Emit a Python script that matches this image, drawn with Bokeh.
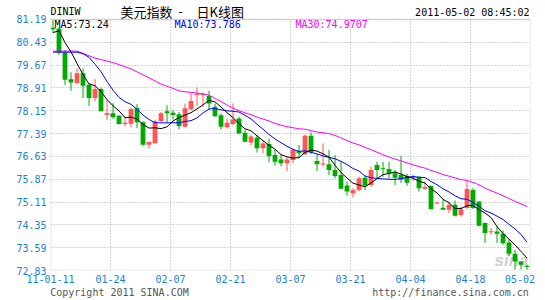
import numpy as np
from bokeh.plotting import figure
from bokeh.models import FixedTicker, Label, ColumnDataSource, LinearAxis, BoxAnnotation
from bokeh.embed import file_html
from bokeh.resources import INLINE

# ---------------- data ----------------
y_ticks = [72.83, 73.59, 74.35, 75.11, 75.87, 76.63, 77.39, 78.15, 78.91, 79.67, 80.43, 81.19]
x_tick_pos = [0, 10, 20, 30, 40, 50, 60, 70, 80]
x_tick_labels = ["11-01-11", "01-24", "02-07", "02-21", "03-07", "03-21", "04-04", "04-18", "05-02"]

opens = [80.91, 80.89, 80.09, 79.20, 79.07, 79.40, 79.01, 78.57, 78.87, 78.01,
         78.07, 77.98, 77.71, 77.71, 78.24, 77.77, 77.02, 77.07, 77.80, 78.13,
         78.08, 78.03, 77.62, 78.20, 78.67, 78.67, 78.64, 78.28, 78.00, 77.60,
         77.71, 77.89, 77.42, 77.09, 77.25, 76.90, 77.04, 76.68, 76.53, 76.40,
         76.51, 76.81, 76.70, 77.32, 76.48, 76.36, 76.37, 76.18, 76.01, 75.66,
         75.40, 75.51, 75.92, 75.68, 76.34, 76.23, 76.21, 76.07, 76.01, 75.98,
         75.90, 75.95, 75.55, 75.64, 75.06, 74.92, 74.85, 75.02, 74.68, 74.91,
         75.51, 75.13, 74.41, 74.10, 74.13, 74.05, 73.76, 73.39, 73.13, 72.96]
highs = [81.17, 80.92, 80.17, 79.43, 79.56, 79.56, 79.07, 79.20, 78.92, 78.51,
         78.40, 78.00, 77.96, 78.26, 78.37, 77.80, 77.13, 77.85, 78.11, 78.33,
         78.17, 78.11, 78.39, 78.72, 78.92, 78.75, 78.81, 78.39, 78.06, 77.89,
         78.39, 77.95, 77.52, 77.35, 77.35, 77.16, 77.21, 76.88, 76.68, 76.60,
         76.90, 77.01, 77.36, 77.43, 76.70, 77.06, 76.84, 76.68, 76.45, 75.79,
         75.57, 75.96, 76.01, 76.29, 76.45, 76.45, 76.45, 76.18, 76.65, 76.05,
         76.02, 75.97, 75.79, 75.66, 75.12, 75.21, 75.13, 75.16, 74.96, 75.82,
         75.57, 75.13, 74.43, 74.24, 74.30, 74.16, 73.86, 73.52, 73.13, 73.02]
lows = [80.74, 80.01, 79.01, 78.81, 79.05, 78.57, 78.31, 78.46, 78.13, 77.85,
        77.87, 77.69, 77.63, 77.60, 77.57, 76.98, 76.89, 77.05, 77.78, 77.74,
        77.86, 77.53, 77.60, 78.17, 78.30, 78.28, 78.19, 77.95, 77.53, 77.56,
        77.67, 77.39, 77.10, 77.00, 76.76, 76.73, 76.43, 76.32, 76.30, 76.14,
        76.40, 76.57, 76.68, 76.70, 76.14, 76.29, 76.01, 75.90, 75.55, 75.32,
        75.26, 75.46, 75.51, 75.62, 75.90, 75.95, 75.90, 75.68, 75.74, 75.65,
        75.82, 75.46, 75.52, 74.85, 75.03, 74.85, 74.74, 74.63, 74.63, 74.87,
        74.87, 74.30, 73.75, 74.02, 73.75, 73.69, 73.30, 72.86, 72.86, 72.86]
closes = [80.86, 80.09, 79.18, 79.09, 79.40, 78.98, 78.57, 78.87, 78.13, 78.07,
          77.94, 77.71, 77.75, 78.21, 77.77, 77.02, 77.11, 77.80, 78.07, 78.07,
          78.01, 77.64, 78.23, 78.47, 78.70, 78.69, 78.39, 77.97, 77.62, 77.75,
          77.86, 77.39, 77.12, 77.29, 76.90, 77.06, 76.64, 76.45, 76.40, 76.53,
          76.84, 76.73, 77.32, 76.77, 76.37, 76.38, 76.18, 75.98, 75.55, 75.46,
          75.51, 75.90, 75.66, 76.18, 76.18, 76.20, 76.07, 75.92, 75.85, 75.75,
          75.93, 75.57, 75.61, 74.88, 75.08, 74.85, 75.02, 74.65, 74.87, 75.54,
          74.91, 74.32, 74.08, 74.11, 74.05, 73.74, 73.39, 73.13, 73.02, 72.95]
# closes of the 29 sessions before the window, estimated from the MA lines
prior_close = [80.09, 79.18, 79.09, 79.40, 81.30, 80.90, 81.20, 79.60, 79.60, 79.40,
               79.80, 79.85, 80.30, 80.80, 80.00, 80.10, 80.95, 81.20, 80.20, 80.10,
               80.09, 79.18, 79.09, 79.40, 79.48, 79.77, 81.17, 80.63, 81.33]

ma_labels = ["MA5:73.24", "MA10:73.786", "MA30:74.9707"]
header_left = "DINIW"
header_title = ["美元指数", "-", "日K线图"]
header_time = "2011-05-02 08:45:02"
footer_texts = ["Copyright 2011 SINA.COM", "http://finance.sina.com.cn"]

# ---------------- pixel helpers ----------------
Y0, Y1 = y_ticks[0], y_ticks[-1]
BOX_TOP, BOX_H, FRAME_L, PX_PER = 19, 252, 50, 6.0
PER_PY = (Y1 - Y0) / BOX_H
Y_TOP = Y1 + BOX_TOP * PER_PY      # frame reaches the top of the canvas

def X(px):
    return (px - FRAME_L) / PX_PER

def Y(py):
    return Y1 - (py - BOX_TOP) * PER_PY

o = np.array(opens); h = np.array(highs); l = np.array(lows); c = np.array(closes)
n = len(c)
xs = np.arange(n) + 0.42
up = c >= o
RED, GREEN = "#FF5555", "#00AA00"
colors = np.where(up, RED, GREEN)
top = np.maximum(o, c)
bot = np.minimum(o, c)
top = np.where(top - bot < PER_PY, bot + PER_PY, top)

full = np.array(prior_close + closes)
k = len(prior_close)

def ma(w):
    return np.array([full[k + i - w + 1:k + i + 1].mean() for i in range(n)])

src = ColumnDataSource(dict(x=xs, top=top, bot=bot, hi=h, lo=l, color=colors,
                            ma5=ma(5), ma10=ma(10), ma30=ma(30)))

# ---------------- figure ----------------
p = figure(width=545, height=300, x_range=(x_tick_pos[0], x_tick_pos[-1]), y_range=(Y0, Y_TOP),
           output_backend="svg", toolbar_location=None,
           min_border_left=50, min_border_right=15, min_border_top=0, min_border_bottom=29)
p.background_fill_color = "white"
p.border_fill_color = "white"
p.outline_line_color = None

AX_COLOR = "#1C7FD2"
MONO = "DejaVu Sans Mono"
GRID = "#aaaaaa"

p.yaxis.ticker = FixedTicker(ticks=y_ticks)
p.yaxis.major_label_overrides = {t: f"{t:.2f}" for t in y_ticks}
last_lab_x = X(519.5)
p.xaxis.ticker = FixedTicker(ticks=x_tick_pos[:-1] + [last_lab_x])
ov = {pos: lab for pos, lab in zip(x_tick_pos[:-1], x_tick_labels[:-1])}
ov[last_lab_x] = x_tick_labels[-1]
p.xaxis.major_label_overrides = ov

foot_pos = [X(119), X(450)]
foot_axis = LinearAxis(ticker=FixedTicker(ticks=foot_pos),
                       major_label_overrides={foot_pos[0]: footer_texts[0], foot_pos[1]: footer_texts[1]})
p.add_layout(foot_axis, "below")

for ax in (p.xaxis[0], p.yaxis[0], foot_axis):
    ax.axis_line_color = None
    ax.major_tick_line_color = None
    ax.minor_tick_line_color = None
    ax.major_tick_out = 0
    ax.major_tick_in = 0
    ax.major_label_text_color = AX_COLOR
    ax.major_label_text_font = MONO
    ax.major_label_text_font_size = "10px"
foot_axis.major_label_text_color = "#555555"
p.yaxis.major_label_standoff = 4
p.xaxis[0].major_label_standoff = 4
foot_axis.major_label_standoff = 1

p.xgrid.visible = False
p.ygrid.ticker = FixedTicker(ticks=y_ticks)
p.ygrid.grid_line_color = GRID
p.ygrid.grid_line_dash = "1 2"
p.ygrid.grid_line_width = 1
# vertical grid lines, limited to the plot box
p.segment(x0=x_tick_pos[1:-1], y0=Y0, x1=x_tick_pos[1:-1], y1=Y1,
          line_color=GRID, line_dash="1 2", line_width=1, level="underlay")

# watermark
p.add_layout(Label(x=X(511), y=Y(261), text="sina", text_align="center", text_baseline="middle",
                   text_font="Liberation Sans", text_font_style="bold italic",
                   text_font_size="17px", text_color="#d0d0d0", level="underlay"))

# candles
p.segment(x0="x", y0="lo", x1="x", y1="hi", color="color", line_width=1, source=src)
p.vbar(x="x", width=0.8, top="top", bottom="bot", fill_color="color", line_color=None, source=src)

# moving averages
p.line("x", "ma30", color="#FF00FF", line_width=1, source=src)
p.line("x", "ma10", color="#0000FF", line_width=1, source=src)
p.line("x", "ma5", color="#000000", line_width=1, source=src)

# plot box border
p.add_layout(BoxAnnotation(left=x_tick_pos[0], right=x_tick_pos[-1], bottom=Y0, top=Y1,
                           fill_color=None, line_color="#9a9a9a", line_width=1.5))

def lab(x, y, text, color="black", align="left", font=MONO, size="10px", style="normal"):
    p.add_layout(Label(x=x, y=y, text=text, text_color=color, text_align=align,
                       text_baseline="middle", text_font=font, text_font_size=size,
                       text_font_style=style))

# header
lab(X(50), Y(11), header_left)
lab(X(120), Y(11), header_title[0], font="Noto Sans CJK SC", size="13px")
lab(X(180), Y(11), header_title[1], align="center", font="Noto Sans CJK SC", size="13px")
lab(X(196), Y(11), header_title[2], font="Noto Sans CJK SC", size="13px")
lab(X(529), Y(12), header_time, align="right")
# MA legend
lab(X(54), Y(24), ma_labels[0], color="#000000")
lab(X(174), Y(24), ma_labels[1], color="#0000FF")
lab(X(295), Y(24), ma_labels[2], color="#FF00FF")

open("out.html", "w").write(file_html(p, INLINE))
